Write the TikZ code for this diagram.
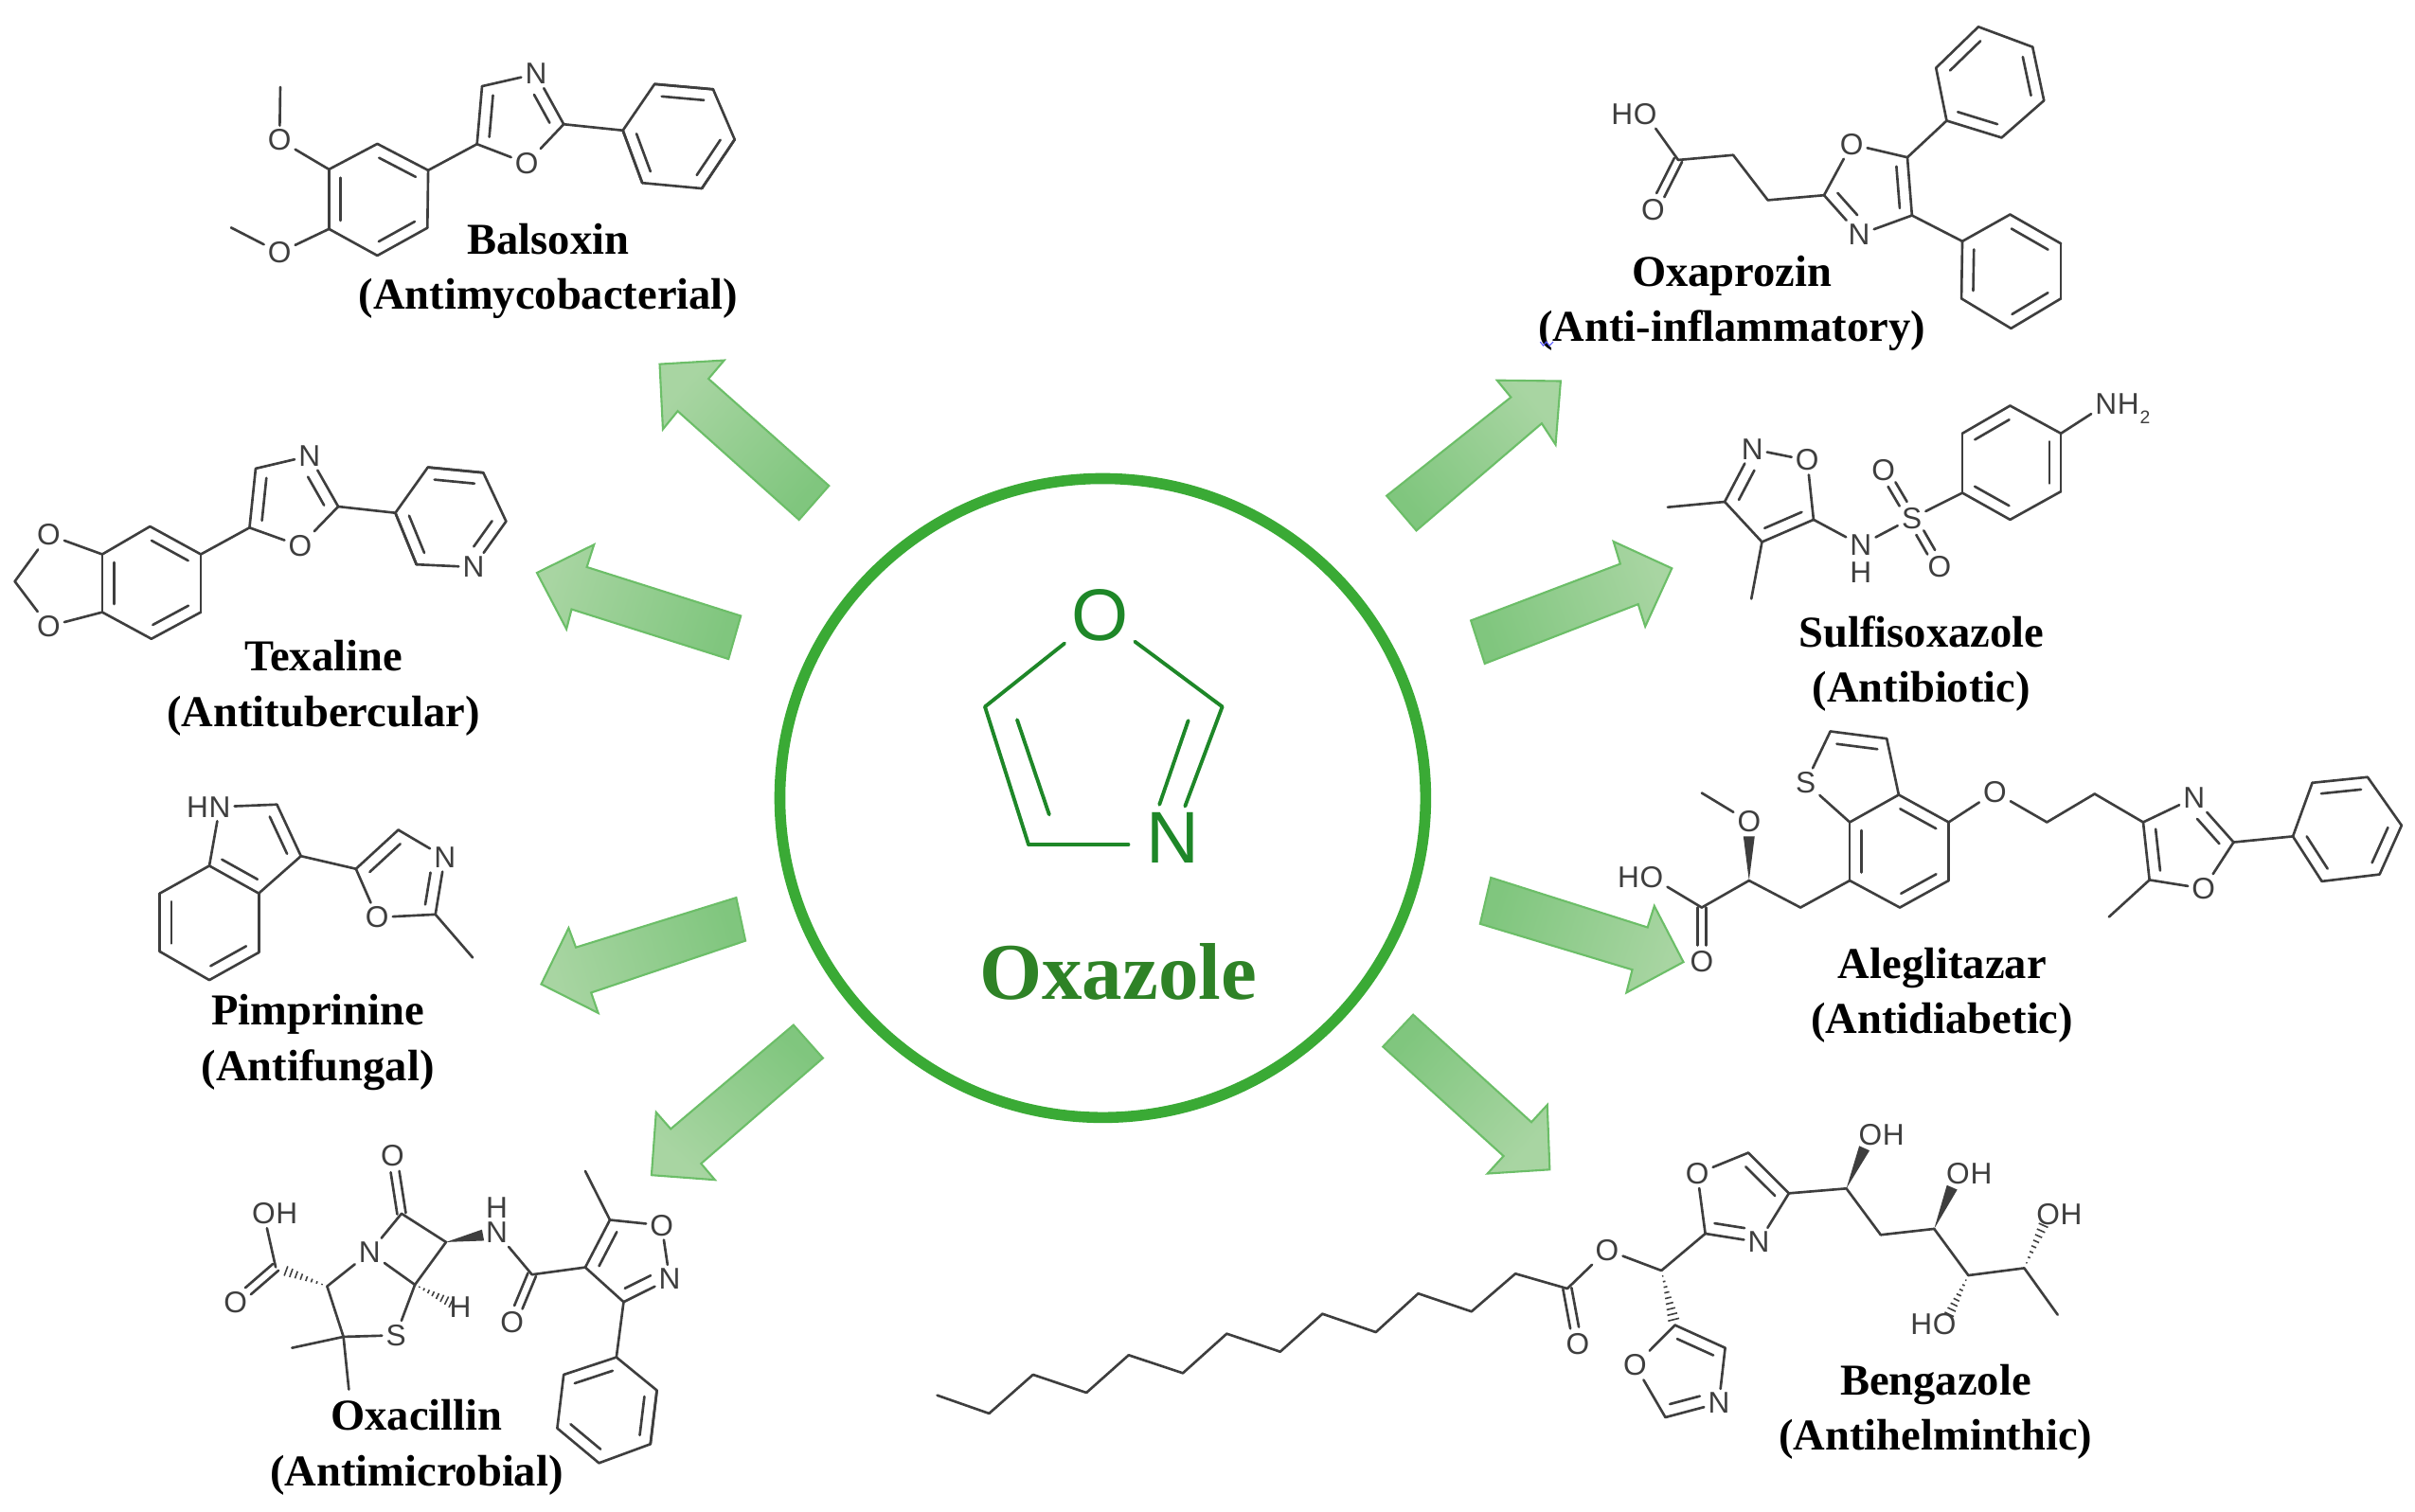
\documentclass[tikz,border=0pt]{standalone}
\usepackage{fontspec}
\setmainfont{Liberation Serif}
\setsansfont{Liberation Sans}
\usetikzlibrary{calc, positioning, shapes.geometric}
\definecolor{my_green}{RGB}{58, 170, 53}
\definecolor{my_title}{RGB}{46, 130, 38}
\definecolor{my_ring}{RGB}{30, 135, 40}
\definecolor{my_head}{RGB}{168, 213, 162}
\definecolor{my_tail}{RGB}{128, 198, 126}
\definecolor{my_edge}{RGB}{108, 190, 104}
\definecolor{my_bond}{RGB}{62, 62, 62}
\tikzset {
  bond/.style = {line width=0.75pt, color=my_bond, line cap=round},
  ringbond/.style = {line width=1.1pt, color=my_ring, line cap=round},
  atom/.style = {inner sep=1.2pt, outer sep=0pt, text=my_bond, font=\sffamily\fontsize{9}{9}\selectfont},
  ringatom/.style = {inner sep=2pt, outer sep=0pt, text=my_ring, font=\sffamily\fontsize{22}{22}\selectfont},
  hub/.style = {draw=my_green, line width=3.3pt, ellipse, minimum width=6.82cm, minimum height=6.75cm, inner sep=0pt},
  drug/.style = {align=center, inner sep=0pt, font=\bfseries\fontsize{13.25}{16.7}\selectfont},
  bigarrow/.style = {draw=my_edge, line width=0.6pt, line join=miter},
  node distance=-2.2pt
}
% inner line of the double bond lies on the left of a->b
\newcommand{\dbloff}{3.5pt}
\newcommand{\dblt}[4]{%
  \draw[bond] (#3) -- (#4);
  \draw[bond] ($(#3)!#1!(#4)!\dbloff!90:(#4)$) -- ($(#4)!#2!(#3)!\dbloff!-90:(#3)$);}
\newcommand{\dbl}[2]{\dblt{.14}{.14}{#1}{#2}}
% two equal lines, C=O and S=O
\newcommand{\dblo}[3][]{%
  \draw[bond, shorten >=5pt, #1] ($(#2)!1.3pt!90:(#3)$) -- ($(#3)!1.3pt!-90:(#2)$);
  \draw[bond, shorten >=5pt, #1] ($(#2)!1.3pt!-90:(#3)$) -- ($(#3)!1.3pt!90:(#2)$);}
\newcommand{\wedgeb}[3][0]{%
  \fill[my_bond] (#2) -- ($(#3)!#1!(#2)!1.7pt!90:(#2)$) -- ($(#3)!#1!(#2)!1.7pt!-90:(#2)$) -- cycle;}
\newcommand{\hashb}[3][.8]{%
  \foreach \t in {.1,.2,...,#1}
    \draw[my_bond, line width=0.45pt] ($(#2)!\t!(#3)!\t*1.9pt!90:(#3)$) -- ($(#2)!\t!(#3)!\t*1.9pt!-90:(#3)$);}
% direction of the gradient, then the outline
\newcommand{\blockarrow}[2]{%
  \path[bigarrow, top color=my_head, bottom color=my_tail, shading angle=#1] #2 -- cycle;}
\newcommand{\carbons}[1]{\foreach \n/\x/\y in {#1} \coordinate (\n) at (\x,\y);}
\newcommand{\atoms}[1]{\foreach \n/\t/\x/\y in {#1} \node[atom] (\n) at (\x,\y) {\t};}
\newcommand{\bonds}[1]{\foreach \a/\b in {#1} \draw[bond] (\a) -- (\b);}

\begin{document}
\begin{tikzpicture}[x=0.01626cm, y=-0.01626cm]
  \useasboundingbox (0,0) rectangle (1568,982);

  % centre
  \node[hub] (hub) at (716,518.3) {};
  \node[ringatom] (hubo) at (714,399.7) {O};
  \node[ringatom] (hubn) at (761.7,544.3) {N};
  \foreach \n/\x/\y in {hubl/639.5/459, hubb/667.8/548.5, hubr/793.6/459, hubi/660.4/467.5, hubj/681.2/529, hubk/771.5/468, hubm/752.8/522.5}
    \coordinate (\n) at (\x,\y);
  \foreach \a/\b in {hubo/hubl, hubl/hubb, hubn/hubr, hubr/hubo, hubi/hubj, hubk/hubm}
    \draw[ringbond] (\a) -- (\b);
  \draw[ringbond, shorten >=3.5pt] (hubb) -- (hubb -| hubn.west);
  \node[font=\bfseries\fontsize{24.2}{24.2}\selectfont, text=my_title, inner sep=0pt] (title) at (726,631.3) {Oxazole};

  % arrows
  \blockarrow{48}{(538.2,315.5) -- (460,246) -- (470.2,234) -- (428.3,236.5) -- (430.4,278.8) -- (440,267) -- (518.8,337.6)}
  \blockarrow{72}{(481,400) -- (381,368.3) -- (385.7,353.7) -- (348.6,372) -- (367.8,408.6) -- (371.1,395.7) -- (473,428)}
  \blockarrow{108}{(478,583) -- (373.9,615.3) -- (369.2,602.7) -- (351.4,639.2) -- (388.4,657.9) -- (383.8,644.7) -- (484,611)}
  \blockarrow{138}{(515.2,665.7) -- (435.5,733.2) -- (426,722.4) -- (423,763.2) -- (464.2,766.3) -- (455.2,755.7) -- (534.3,687.2)}
  \blockarrow{-50}{(900.3,322) -- (981,258) -- (972,247) -- (1013.3,247.5) -- (1010,288.8) -- (1001,275) -- (919.6,344.6)}
  \blockarrow{-70}{(955,403) -- (1052,366.2) -- (1047.6,351.7) -- (1085.5,369.1) -- (1068.2,406.9) -- (1063.6,392.4) -- (964,431)}
  \blockarrow{-108}{(968,570) -- (1069.7,602.3) -- (1074.1,588.4) -- (1093,624.8) -- (1056,644.7) -- (1059.8,629.8) -- (961,600)}
  \blockarrow{-132}{(917.5,659) -- (994.3,728.8) -- (1004.6,717.6) -- (1006.2,759.6) -- (965.8,762.2) -- (976.2,750.8) -- (897.9,679.8)}

  % Balsoxin
  \carbons{bxa/213.6/110, bxb/245/93.4, bxc/278/110.6, bxd/277.5/148, bxe/245/166, bxf/213.6/148.7, bxm/182/56.5, bxn/150/147.8,
    bxg/309.7/93.6, bxh/313/56, bxi/366/80.7, bxj/404.4/84.7, bxk/425/54.6, bxl/463/58, bxq/477/90.6, bxr/455.7/122.4, bxs/417/118.8}
  \atoms{bxo/O/181.5/91, bxp/O/181.5/164, bxO/O/342/106, bxN/N/348/48}
  \bonds{bxm/bxo, bxo/bxa, bxn/bxp, bxp/bxf, bxa/bxb, bxc/bxd, bxf/bxe, bxc/bxg, bxg/bxO, bxO/bxi, bxN/bxh, bxi/bxj, bxj/bxk, bxk/bxl, bxl/bxq, bxq/bxr, bxr/bxs, bxs/bxj}
  \dbl{bxa}{bxf} \dbl{bxe}{bxd} \dbl{bxc}{bxb} \dbl{bxh}{bxg} \dblt{.14}{.3}{bxi}{bxN}
  \dbl{bxj}{bxs} \dbl{bxr}{bxq} \dbl{bxl}{bxk}
  \node[drug] (balsoxin) at (356,176) {Balsoxin\\(Antimycobacterial)};

  % Texaline
  \carbons{txa/66.4/360, txb/97.4/341.9, txc/130.4/360, txd/130.4/397.6, txe/98.3/414.9, txf/66.4/397.6, txm/9.6/377.6,
    txg/162/342.7, txh/166/304.3, txi/219.6/329, txj/256.7/333.1, txk/277.8/303.5, txl/313.8/307, txq/328.6/338.6, txs/270.4/366.6}
  \atoms{txo/O/31.6/347.4, txp/O/31.6/406.7, txO/O/194.9/354.5, txN/N/200.9/296.1, txP/N/307.4/368.3}
  \bonds{txm/txo, txm/txp, txo/txa, txp/txf, txa/txb, txc/txd, txf/txe, txc/txg, txg/txO, txO/txi, txN/txh, txi/txj, txj/txk, txk/txl, txl/txq, txP/txs, txs/txj}
  \dbl{txa}{txf} \dbl{txe}{txd} \dbl{txc}{txb} \dbl{txh}{txg} \dblt{.14}{.3}{txi}{txN}
  \dbl{txj}{txs} \dblt{.3}{.14}{txP}{txq} \dbl{txl}{txk}
  \node[drug] (texaline) at (210,447) {Texaline\\(Antitubercular)};

  % Pimprinine
  \carbons{pma/179.8/522.5, pmb/195.4/556, pmc/168/580.2, pmd/135.9/562.3, pme/103.8/580.2, pmf/103.8/618, pmg/135.9/636.5, pmh/168/618.6,
    pmi/231.1/564.3, pmj/258.6/539, pmk/282.7/593.9, pmm/306.9/621.9}
  \atoms{pmn/N/142.7/524, pmO/O/244.9/595.8, pmN/N/288.8/556.8}
  \node[atom, left=of pmn] (pmh1) {H};
  \bonds{pmn/pma, pmn/pmd, pmb/pmc, pmd/pme, pmf/pmg, pmh/pmc, pmb/pmi, pmi/pmO, pmO/pmk, pmk/pmm, pmN/pmj}
  \dbl{pmb}{pma} \dbl{pmd}{pmc} \dbl{pme}{pmf} \dbl{pmg}{pmh} \dbl{pmj}{pmi} \dblt{.14}{.3}{pmk}{pmN}
  \node[drug] (pimprinine) at (206.4,677) {Pimprinine\\(Antifungal)};

  % Oxacillin
  \carbons{oxa/179/823, oxb/212.4/835.4, oxc/260.7/788.2, oxd/289.6/806.7, oxe/269.4/834.4, oxf/223/868.2, oxg/189.6/875.4, oxi/226.5/902.4,
    oxj/345.4/827.8, oxk/380/823.1, oxl/396/792.3, oxm/380/760.6, oxq/404.9/845.6,
    oxr/400.2/881.5, oxs/366/892.8, oxt/361.8/927.6, oxu/388.9/950.2, oxv/422.3/937.9, oxw/426.5/903}
  \atoms{oxo/O/171.2/788.2, oxp/O/152.9/845.6, oxn/N/240/813.4, oxP/O/254.8/750.3, oxS/S/257.1/867.2, oxH/H/298.8/849.1,
    oxN/N/322.5/800.5, oxH2/H/322.5/784.1, oxQ/O/332.4/859, oxO/O/429.6/795.8, oxI/N/434.8/830.7}
  \node[atom, right=of oxo] (oxh1) {H};
  \bonds{oxa/oxo, oxb/oxn, oxn/oxc, oxc/oxd, oxd/oxe, oxe/oxn, oxb/oxf, oxf/oxS, oxS/oxe, oxf/oxg, oxf/oxi, oxN/oxj, oxj/oxk, oxl/oxm, oxl/oxO, oxO/oxI, oxk/oxq, oxq/oxr,
    oxr/oxw, oxs/oxt, oxu/oxv, oxw/oxv}
  \dblo{oxa}{oxp} \dblo{oxc}{oxP} \dblo{oxj}{oxQ}
  \dbl{oxl}{oxk} \dblt{.14}{.3}{oxq}{oxI} \dbl{oxr}{oxs} \dbl{oxt}{oxu} \dbl{oxv}{oxw}
  \hashb{oxb}{oxa} \hashb{oxe}{oxH}
  \wedgeb[.27]{oxd}{oxN}
  \node[drug] (oxacillin) at (270.5,940) {Oxacillin\\(Antimicrobial)};

  % Oxaprozin
  \carbons{opa/1089.6/103.9, opb/1125.3/100.7, opc/1147.8/130, opd/1184.3/126.8, ope/1238.4/102.2, opf/1241.4/139.9,
    opg/1263.9/78.4, oph/1257/44.1, opi/1284.5/17.4, opj/1319.7/30.5, opk/1327.1/65.3, opl/1299.6/89.4,
    opm/1274.1/156.7, opq/1305.1/139.3, opr/1338.1/158.2, ops/1338.1/193.9, opt/1305.7/213.3, opu/1273.5/193.9}
  \atoms{opo/O/1068.2/74, opp/O/1073.2/136.4, opO/O/1202.2/93.7, opN/N/1207.1/152.4}
  \node[atom, left=of opo] (oph1) {H};
  \bonds{opo/opa, opa/opb, opb/opc, opc/opd, opd/opO, opO/ope, opf/opN, ope/opg, opf/opm, opg/oph, opi/opj, opk/opl, opm/opq, opr/ops, opt/opu}
  \dblo{opa}{opp} \dblt{.14}{.3}{opd}{opN} \dbl{opf}{ope}
  \dbl{opg}{opl} \dbl{opk}{opj} \dbl{opi}{oph} \dbl{opm}{opu} \dbl{opt}{ops} \dbl{opr}{opq}
  \node[drug] (oxaprozin) at (1124.5,197) {Oxaprozin\\(Anti-inflammatory)};
  \draw[blue!65, line width=0.3pt] (1000,222) -- (1002,224.5) -- (1004,222) -- (1006,224.5) -- (1008.5,222);

  % Sulfisoxazole
  \carbons{sua/1119.8/325.9, sub/1144/352, suc/1177.5/337.5, sud/1082.8/329.4, sue/1137.1/388.9,
    suf/1274.1/320.1, sug/1274.1/281.5, suh/1305.1/263.5, sui/1338.1/281.5, suj/1338.1/319.2, suk/1305.1/337.5}
  \atoms{suN/N/1137.7/291.7, suO/O/1173.4/298.9, sun/N/1208.2/354, suh1/H/1208.2/371.5, suS/S/1241.2/336.6, suo/O/1222.8/305.3, sup/O/1259.3/368, sum/N/1367.4/262.6}
  \node[atom, right=of sum] (suh2) {H};
  \node[atom, anchor=west, font=\sffamily\fontsize{5.5}{5.5}\selectfont, inner sep=0pt] (sutwo) at (1389.5,271) {2};
  \bonds{suN/suO, suO/suc, sub/sua, sua/sud, sub/sue, suc/sun, sun/suS, suS/suf, suf/sug, suh/sui, suj/suk, sui/sum}
  \dblt{.3}{.14}{suN}{sua} \dbl{sub}{suc}
  \dblo[shorten <=5pt]{suS}{suo} \dblo[shorten <=5pt]{suS}{sup}
  \dbl{suf}{suk} \dbl{suj}{sui} \dbl{suh}{sug}
  \node[drug] (sulfisoxazole) at (1247.5,431) {Sulfisoxazole\\(Antibiotic)};

  % Aleglitazar
  \carbons{ala/1188.4/475, alb/1225/479.7, alc/1232.8/516.2, ald/1201/534, ale/1201/571.9, alf/1233.5/589.4, alg/1265.2/571.9, ali/1265.2/534,
    alj/1329/534, alk/1360/515.6, all/1391.5/534, alm/1450.2/547, alq/1395.6/571.5, alr/1369.3/595.5,
    als/1488.7/543.2, alt/1501.3/508.4, alu/1537.2/504.7, alv/1559.3/536.1, alw/1545/567.9, alx/1507.5/572.4,
    aly/1169/589.4, alz/1135.6/571.9, alzm/1104.9/515, alzc/1104.9/589.4}
  \atoms{alS/S/1172.4/508.4, alo/O/1295.2/514.5, alN/N/1424.6/518.2, alO/O/1430.7/577.1, alp/O/1135.6/533.6, alP/O/1072.4/569.9, alQ/O/1104.9/624.8}
  \node[atom, left=of alP] (alh1) {H};
  \bonds{alS/ala, alb/alc, alc/ald, ald/alS, ale/alf, alg/ali, ali/alo, alo/alj, alj/alk, alk/all, all/alN, alq/alO, alO/alm, alq/alr, alm/als,
    als/alt, alu/alv, alw/alx, ale/aly, aly/alz, alz/alzc, alzc/alP, alp/alzm}
  \dbl{alb}{ala} \dbl{ald}{ale} \dbl{alf}{alg} \dbl{ali}{alc} \dbl{all}{alq} \dblt{.14}{.3}{alm}{alN}
  \dbl{als}{alx} \dbl{alw}{alv} \dbl{alu}{alt}
  \dblo{alzc}{alQ}
  \wedgeb[.25]{alz}{alp}
  \node[drug] (aleglitazar) at (1261,646.5) {Aleglitazar\\(Antidiabetic)};

  % Bengazole
  \carbons{bga/608.5/906.2, bgb/642.2/918, bgc/670.7/892.8, bgd/705.4/904.5, bge/732.8/880.1, bgf/768/891.8, bgg/796.5/866.2, bgh/831.2/877.9,
    bgi/858.6/853.3, bgj/893.3/865.2, bgk/920.8/840.1, bgl/955.4/851.8, bgm/983.9/827.2, bgq/1017.6/836.9, bgr/1078.7/825.2, bgs/1107.2/801.2,
    bgt/1161.5/775, bgu/1135.1/748.7, bgv/1198.8/771.9, bgw/1221.1/802, bgx/1255.8/798.1, bgy/1278/828.3, bgz/1314.3/823.6, bgme/1336/853.9,
    bgp/1087.5/860.6, bgpa/1120.1/875.4, bgpb/1081.3/920.5}
  \atoms{bgo/O/1024.3/873, bgO/O/1043.5/811.9, bgN/N/1141.9/806.7, bgP/O/1102/762.2, bgo1/O/1214.4/737, bgo2/O/1271.3/762.2, bgo3/O/1262.5/860, bgo4/O/1329.8/788.9,
    bgR/N/1116/911.3, bgQ/O/1061.6/886.7}
  \node[atom, right=of bgo1] (bgh1) {H};
  \node[atom, right=of bgo2] (bgh2) {H};
  \node[atom, left=of bgo3] (bgh3) {H};
  \node[atom, right=of bgo4] (bgh4) {H};
  \bonds{bga/bgb, bgb/bgc, bgc/bgd, bgd/bge, bge/bgf, bgf/bgg, bgg/bgh, bgh/bgi, bgi/bgj, bgj/bgk, bgk/bgl, bgl/bgm, bgm/bgq, bgq/bgO, bgO/bgr, bgr/bgs,
    bgP/bgs, bgN/bgt, bgu/bgP, bgt/bgv, bgv/bgw, bgw/bgx, bgx/bgy, bgy/bgz, bgz/bgme, bgp/bgQ, bgQ/bgpb, bgR/bgpa}
  \dblo{bgq}{bgo} \dblt{.14}{.3}{bgs}{bgN} \dbl{bgt}{bgu} \dblt{.14}{.3}{bgpb}{bgR} \dbl{bgpa}{bgp}
  \wedgeb[.25]{bgv}{bgo1} \wedgeb[.25]{bgx}{bgo2}
  \hashb{bgy}{bgo3} \hashb{bgz}{bgo4} \hashb[.95]{bgr}{bgp}
  \node[drug] (bengazole) at (1256.8,917) {Bengazole\\(Antihelminthic)};
\end{tikzpicture}
\end{document}
